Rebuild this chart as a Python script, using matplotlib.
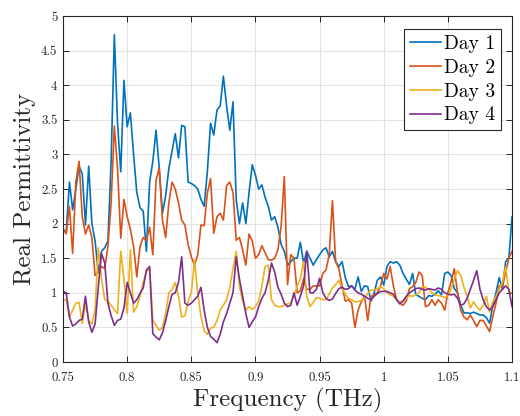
import matplotlib
matplotlib.use('Agg')
import matplotlib.pyplot as plt
import numpy as np

plt.rcParams['font.family'] = 'cmr10'
plt.rcParams['mathtext.fontset'] = 'cm'
plt.rcParams['axes.formatter.use_mathtext'] = True

# frequency grid (THz), values at each step
freq = np.linspace(0.75, 1.1, 141)

day1 = [1.9, 1.88, 2.6, 2.2, 2.5, 2.83, 2.72, 1.98, 2.83, 2.0,
        1.75, 1.29, 1.6, 1.65, 1.75, 2.9, 4.73, 3.45, 2.75, 4.07,
        3.4, 3.6, 3.0, 2.45, 2.23, 2.18, 1.6, 2.6, 2.9, 3.35,
        2.8, 2.15, 2.4, 2.8, 3.05, 3.3, 2.95, 3.42, 3.4, 2.6,
        2.58, 2.55, 2.5, 2.35, 2.25, 2.75, 3.45, 3.28, 3.64, 3.7,
        4.13, 3.7, 3.35, 3.76, 2.34, 2.0, 2.3, 2.0, 2.45, 2.85,
        2.7, 2.5, 2.56, 2.38, 2.25, 2.05, 2.1, 1.95, 1.7, 1.6,
        1.4, 1.45, 1.5, 1.5, 1.73, 1.43, 1.6, 1.5, 1.4, 1.48,
        1.55, 1.62, 1.65, 1.52, 1.6, 1.45, 1.38, 1.45, 1.22, 1.09,
        1.1, 1.05, 1.23, 1.02, 1.1, 1.09, 0.88, 1.0, 1.18, 1.23,
        1.11, 1.38, 1.45, 1.43, 1.45, 1.4, 1.28, 1.2, 1.12, 1.28,
        0.97, 0.95, 0.92, 0.9, 0.96, 0.95, 0.98, 1.03, 0.97, 1.28,
        1.3, 1.25, 1.06, 1.0, 0.82, 0.71, 0.71, 0.7, 0.72, 0.7,
        0.68, 0.68, 0.64, 0.56, 0.82, 1.0, 1.22, 1.05, 1.45, 1.5, 2.1]

day2 = [1.93, 1.85, 2.25, 1.57, 2.6, 2.9, 2.1, 1.85, 1.98, 1.8,
        1.25, 1.3, 1.38, 1.35, 1.67, 2.3, 3.41, 2.8, 1.79, 2.35,
        2.1, 1.92, 1.67, 1.23, 1.67, 1.8, 1.75, 1.95, 1.55, 2.63,
        2.8, 2.05, 1.8, 2.3, 2.6, 2.5, 2.3, 2.05, 1.98, 1.7,
        1.52, 1.4, 1.55, 1.98, 1.97, 2.44, 2.65, 1.86, 2.1, 2.15,
        2.05, 2.55, 2.6, 2.45, 1.76, 1.8, 1.62, 1.4, 1.85, 1.75,
        1.5, 1.55, 1.68, 1.58, 1.48, 1.47, 1.5, 1.62, 1.96, 2.68,
        1.12, 1.55, 1.5, 1.0, 1.03, 1.2, 1.05, 1.05, 1.1, 1.1,
        1.1, 1.28, 1.33, 1.55, 2.33, 1.45, 1.35, 1.1, 0.88, 0.9,
        0.85, 0.5, 0.75, 0.87, 0.95, 0.6, 0.95, 0.97, 1.0, 1.1,
        1.28, 1.2, 1.38, 1.1, 0.9, 0.85, 0.82, 0.88, 1.06, 1.09,
        1.15, 1.3, 1.25, 0.8, 0.82, 0.9, 0.82, 0.9, 0.85, 0.75,
        1.0, 1.16, 1.35, 1.0, 0.75, 0.65, 0.61, 0.68, 0.6, 0.51,
        0.6, 0.6, 0.52, 0.44, 0.66, 0.85, 1.1, 1.09, 1.3, 1.5, 1.6]

day3 = [0.9, 0.9, 0.65, 0.75, 0.85, 0.86, 0.56, 0.85, 0.6, 0.55,
        0.75, 1.65, 1.2, 0.9, 0.88, 0.82, 0.75, 0.7, 1.6, 1.2,
        0.7, 1.62, 0.72, 0.8, 0.95, 1.15, 1.3, 1.35, 0.6, 0.53,
        0.46, 0.5, 0.7, 1.0, 1.05, 1.15, 0.95, 0.65, 0.67, 0.88,
        1.0, 1.47, 0.99, 0.66, 0.45, 0.4, 0.49, 0.5, 0.6, 0.75,
        0.82, 0.9, 1.08, 1.35, 1.6, 1.1, 0.88, 0.75, 0.8, 0.76,
        0.8, 0.88, 1.1, 1.38, 1.4, 0.9, 0.82, 0.8, 0.8, 0.82,
        0.84, 0.85, 0.95, 1.1, 1.2, 1.45, 0.95, 0.8, 0.86, 0.93,
        0.92, 0.9, 0.9, 0.98, 1.07, 1.12, 1.18, 1.06, 0.98, 0.92,
        0.9, 0.87, 0.87, 0.89, 0.92, 0.99, 1.04, 1.04, 1.06, 1.09,
        1.06, 1.0, 0.97, 0.95, 0.9, 0.87, 0.88, 0.92, 0.96, 0.95,
        0.97, 1.0, 1.09, 1.08, 1.05, 1.0, 0.97, 0.96, 0.95, 0.93,
        0.96, 1.05, 1.2, 1.32, 1.25, 1.08, 0.95, 0.78, 0.87, 0.8,
        0.75, 0.82, 0.95, 0.72, 0.87, 0.95, 1.05, 1.15, 1.38, 1.02, 1.0]

day4 = [1.02, 1.0, 0.65, 0.52, 0.55, 0.6, 0.62, 0.95, 0.58, 0.43,
        0.55, 1.08, 1.57, 1.43, 0.85, 0.67, 0.53, 0.6, 0.62, 0.78,
        1.15, 1.0, 0.85, 0.9, 0.99, 1.07, 1.33, 1.38, 0.41, 0.36,
        0.32, 0.42, 0.6, 0.8, 0.98, 1.0, 1.15, 1.52, 0.85, 0.82,
        0.85, 0.9, 0.95, 1.08, 0.75, 0.5, 0.37, 0.33, 0.28, 0.4,
        0.58, 0.7, 0.85, 1.0, 1.52, 1.2, 0.95, 0.7, 0.5, 0.58,
        0.65, 0.8, 0.92, 1.0, 1.18, 1.43, 1.3, 1.08, 0.98, 0.85,
        0.8, 0.82, 1.0, 0.82, 0.95, 1.1, 1.6, 1.0, 1.0, 1.05,
        1.21, 1.0, 0.92, 0.89, 0.91, 0.99, 1.06, 1.08, 1.05, 1.06,
        1.1, 1.04, 1.0, 0.98, 0.95, 0.92, 0.9, 0.95, 0.99, 1.02,
        1.02, 1.02, 1.0, 0.98, 0.9, 0.84, 0.88, 0.95, 1.0, 1.03,
        1.06, 1.07, 1.05, 1.04, 1.06, 1.05, 1.04, 1.07, 1.05, 1.0,
        0.98, 0.97, 0.98, 0.92, 0.82, 0.84, 0.92, 1.05, 1.18, 1.32,
        1.05, 0.9, 0.8, 0.75, 0.8, 0.9, 1.0, 1.05, 1.1, 1.05, 0.8]

labels = ['Day 1', 'Day 2', 'Day 3', 'Day 4']
colors = ['#0072BD', '#D95319', '#EDB120', '#7E2F8E']

xticks = [0.75, 0.8, 0.85, 0.9, 0.95, 1.0, 1.05, 1.1]
xticklabels = ['0.75', '0.8', '0.85', '0.9', '0.95', '1', '1.05', '1.1']
yticks = [0, 0.5, 1, 1.5, 2, 2.5, 3, 3.5, 4, 4.5, 5]
yticklabels = ['0', '0.5', '1', '1.5', '2', '2.5', '3', '3.5', '4', '4.5', '5']

fig = plt.figure(figsize=(5.2, 4.16), dpi=100)
ax = fig.add_axes([0.1212, 0.1298, 0.8635, 0.8317])

for vals, c, lab in zip([day1, day2, day3, day4], colors, labels):
    ax.plot(freq, vals, color=c, lw=1.2, label=lab)

ax.set_xlim(0.75, 1.1)
ax.set_ylim(0, 5)
ax.set_xticks(xticks)
ax.set_xticklabels(xticklabels)
ax.set_yticks(yticks)
ax.set_yticklabels(yticklabels)

# matlab-ish look
ax.grid(color='#e3e3e3', lw=0.8)
ax.set_axisbelow(True)
ax.tick_params(direction='in', top=True, right=True, labelsize=9.3,
               length=4, width=0.7, color='#262626', labelcolor='#262626')
ax.tick_params(axis='x', pad=7)
ax.tick_params(axis='y', pad=4)
for s in ax.spines.values():
    s.set_color('#262626')
    s.set_linewidth(0.8)

ax.set_xlabel('Frequency (THz)', fontsize=18, color='#262626', labelpad=3)
ax.set_ylabel('Real Permittivity', fontsize=18, color='#262626', labelpad=4)

leg = ax.legend(loc='upper right', bbox_to_anchor=(0.975, 0.962), borderaxespad=0,
                fontsize=14, fancybox=False, edgecolor='#262626', framealpha=1,
                handlelength=1.6, handletextpad=0.15, labelspacing=0.3, borderpad=0.3)
leg.get_frame().set_linewidth(0.8)

fig.savefig('out.png', dpi=100)
